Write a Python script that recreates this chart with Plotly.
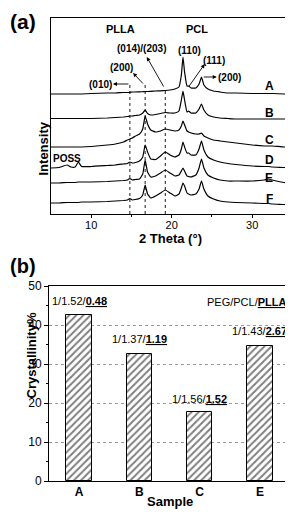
import plotly.graph_objects as go

# The page adds an 8px body margin, so the figure is laid out 8px smaller
# and every screen position is shifted by that offset.
SW, SH = 293, 521
OFF = 8
W, H = SW - OFF, SH - OFF

# ---------------- Panel (a): XRD patterns ----------------
theta = [5, 6, 7, 7.5, 8, 8.4, 8.8, 10, 12, 13, 14, 14.5, 14.8, 15.1, 15.5, 16, 16.4,
         16.7, 17.0, 17.4, 18, 18.6, 19.2, 19.8, 20.4, 20.9, 21.2, 21.4, 21.6, 21.9,
         22.1, 22.4, 23.0, 23.4, 23.7, 24.0, 24.5, 25.2, 26, 27, 28, 30, 31.5, 32,
         32.5, 34, 34.7]

curve_A = [120, 120, 120, 120, 120, 120, 120, 120.5, 121, 121, 121.5, 121.5, 121.7, 122,
           122, 122.2, 122.3, 122.5, 122.5, 122.7, 123, 123.2, 123.5, 124, 125, 127, 139,
           157, 142, 128, 128, 126, 126, 130, 137, 129, 125, 123, 122, 121, 121, 120.5,
           120.5, 120.5, 120.5, 120, 120]
curve_B = [95.5, 95.5, 95.5, 95.5, 95.5, 95.5, 95.5, 95.5, 96, 96.5, 97, 97.5, 98, 98,
           98.5, 99, 101, 104, 100.5, 99, 99.5, 100.5, 101.5, 101, 101, 103, 114, 123,
           114, 102, 103, 101, 101, 105, 110, 104, 99, 97, 96, 95.5, 95, 95, 95, 95, 95,
           95, 95]
curve_C = [67, 67, 67, 67, 67, 67, 67, 67.5, 69, 70, 72, 74, 75, 76, 78, 80, 85, 98, 90,
           84, 82, 83, 85, 84, 83, 84, 88, 93, 89, 83, 82, 81, 80, 80, 81, 78, 76, 74, 73,
           72, 71, 69, 68, 68, 68, 67, 67]
curve_D = [46, 46.5, 49, 47, 47, 52, 47.5, 47.5, 48.5, 49, 50, 50.5, 52, 51, 51.5, 53, 57,
           69, 62, 55, 54.5, 58, 62, 59, 57, 59, 65, 72, 67, 61, 61, 59, 59, 65, 73, 64,
           57, 54, 52, 50.5, 49.5, 48, 47.5, 47.5, 47, 46.5, 46]
curve_E = [31, 31, 31.5, 31.5, 31.5, 32, 32, 32, 32.5, 33, 33.5, 34, 35.5, 34, 34.5, 35,
           40, 54, 42, 37, 38, 41, 44, 41, 38, 39, 43, 46, 43, 38, 37.5, 37, 39, 46, 55,
           46, 39, 36, 34, 33, 33, 33, 34, 35, 34, 31.5, 31]
curve_F = [11, 11, 11.5, 11.5, 11.5, 11.5, 12, 12, 12.5, 13, 13.5, 14, 15.5, 14, 14.5,
           15.5, 19, 29, 20, 16, 18, 21, 24, 21, 18, 20, 26, 31, 28, 21, 20, 19, 20, 25,
           33, 25, 18, 15, 13, 12, 11.5, 11, 10.5, 10.5, 10, 9.5, 9]

curve_names = ["A", "B", "C", "D", "E", "F"]
curves = [curve_A, curve_B, curve_C, curve_D, curve_E, curve_F]
curve_label_y = [128, 101, 74, 54, 36, 15]

ref_lines_theta = [14.8, 16.7, 19.2]
ref_lines_top = [130, 129, 126]

# ---------------- Panel (b): crystallinity ----------------
samples = ["A", "B", "C", "E"]
crystallinity = [42.6, 32.6, 17.8, 34.6]
ratio_prefix = ["1/1.52/", "1/1.37/", "1/1.56/", "1/1.43/"]
ratio_plla = ["0.48", "1.19", "1.52", "2.67"]
label_y = [46.1, 36.3, 20.9, 38.4]

FONT = "Liberation Sans, Arial, sans-serif"


def dx(sx):
    return (sx - OFF) / W


def dy(sy):
    return 1 - (sy - OFF) / H


fig = go.Figure()

for name, vals in zip(curve_names, curves):
    assert len(vals) == len(theta)
    fig.add_trace(go.Scatter(x=theta, y=vals, mode="lines", name=name,
                             line=dict(color="black", width=1.2, shape="spline", smoothing=0.4),
                             xaxis="x", yaxis="y", showlegend=False, hoverinfo="skip"))

for t, top in zip(ref_lines_theta, ref_lines_top):
    fig.add_trace(go.Scatter(x=[t, t], y=[0, top], mode="lines",
                             line=dict(color="black", width=0.9, dash="dot"),
                             xaxis="x", yaxis="y", showlegend=False, hoverinfo="skip"))

fig.add_trace(go.Bar(x=samples, y=crystallinity, width=0.42,
                     marker=dict(color="white", line=dict(color="black", width=1),
                                 pattern=dict(shape="/", fgcolor="black", bgcolor="white",
                                              size=5, solidity=0.4)),
                     xaxis="x2", yaxis="y2", showlegend=False, hoverinfo="skip"))

ann = []
for name, ly in zip(curve_names, curve_label_y):
    ann.append(dict(x=32.1, y=ly, xref="x", yref="y", text="<b>%s</b>" % name,
                    showarrow=False, font=dict(size=12, color="black", family=FONT)))


def ptxt(text, x, y, size=10):
    ann.append(dict(x=x, y=y, xref="x", yref="y", text="<b>%s</b>" % text, showarrow=False,
                    font=dict(size=size, color="black", family=FONT)))


ptxt("PLLA", 13.6, 185, 11)
ptxt("PCL", 23.2, 185, 11)
ptxt("(014)/(203)", 16.2, 166)
ptxt("(110)", 22.2, 164)
ptxt("(111)", 25.3, 154)
ptxt("(200)", 27.2, 137)
ptxt("(200)", 13.8, 147)
ptxt("(010)", 11.2, 130)
ptxt("POSS", 7.0, 56)


def arrow(hx, hy, tx, ty):
    ann.append(dict(x=hx, y=hy, ax=tx, ay=ty, xref="x", yref="y", axref="x", ayref="y",
                    text="", showarrow=True, arrowhead=2, arrowsize=0.9, arrowwidth=0.9,
                    arrowcolor="black", standoff=0, startstandoff=0))


arrow(12.7, 130, 14.8, 130)
arrow(15.2, 141, 16.6, 129)
arrow(16.9, 157, 19.1, 126)
arrow(24.1, 150, 22.0, 126)
arrow(25.6, 137, 23.8, 137)

for s, p, q, ly in zip(samples, ratio_prefix, ratio_plla, label_y):
    ann.append(dict(x=s, y=ly, xref="x2", yref="y2", text="%s<b><u>%s</u></b>" % (p, q),
                    showarrow=False, font=dict(size=11, color="black", family=FONT)))
ann.append(dict(x=dx(288.5), y=dy(302), xref="paper", yref="paper", xanchor="right",
                text="PEG/PCL/<b><u>PLLA</u></b>", showarrow=False,
                font=dict(size=11, color="black", family=FONT)))


def paper_txt(text, sx, sy, size, angle=0, **kw):
    d = dict(x=dx(sx), y=dy(sy), xref="paper", yref="paper", text=text,
             showarrow=False, textangle=angle,
             font=dict(size=size, color="black", family=FONT))
    d.update(kw)
    ann.append(d)


paper_txt("<b>(a)</b>", OFF, OFF, 21, xanchor="left", yanchor="top")
paper_txt("<b>(b)</b>", OFF, 266, 20, xanchor="left")
paper_txt("<b>2 Theta (°)</b>", 170, 238, 13)
paper_txt("<b>Intensity</b>", 33, 120, 13, -90)
paper_txt("<b>Crystallinity%</b>", 21, 401, 13, -90)
paper_txt("<b>Sample</b>", 170, 511, 13)

axis_common = dict(showline=True, linecolor="black", linewidth=1, mirror=True,
                   zeroline=False, automargin=False)

fig.update_layout(
    width=W, height=H,
    margin=dict(l=0, r=0, t=0, b=0, pad=0),
    paper_bgcolor="white", plot_bgcolor="white",
    font=dict(family=FONT, color="black"),
    annotations=ann,
    xaxis=dict(domain=[dx(51), dx(290)], anchor="y", range=[5, 34.7],
               tickvals=[10, 20, 30], ticks="outside", ticklen=3, tickcolor="black",
               ticklabelstandoff=-2,
               minor=dict(tickvals=[15, 25], ticks="outside", ticklen=2, tickcolor="black"),
               showgrid=False, tickfont=dict(size=11, family=FONT), **axis_common),
    yaxis=dict(domain=[dy(214), dy(18)], anchor="x", range=[0, 196],
               showticklabels=False, ticks="", showgrid=False, **axis_common),
    xaxis2=dict(domain=[dx(49), dx(290)], anchor="y2", range=[-0.5, 3.5],
                tickvals=samples, ticktext=["<b>%s</b>" % s for s in samples],
                ticks="", showgrid=False, tickfont=dict(size=12, family=FONT),
                **axis_common),
    yaxis2=dict(domain=[dy(481), dy(286)], anchor="x2", range=[0, 50],
                tickvals=[0, 10, 20, 30, 40, 50], ticks="outside", ticklen=4,
                tickcolor="black",
                minor=dict(tickvals=[5, 15, 25, 35, 45], ticks="outside", ticklen=2,
                           tickcolor="black"),
                showgrid=True, gridcolor="#9a9a9a", griddash="dot", gridwidth=1,
                tickfont=dict(size=12, family=FONT), **axis_common),
    bargap=0,
)

fig.write_html("out.html")
